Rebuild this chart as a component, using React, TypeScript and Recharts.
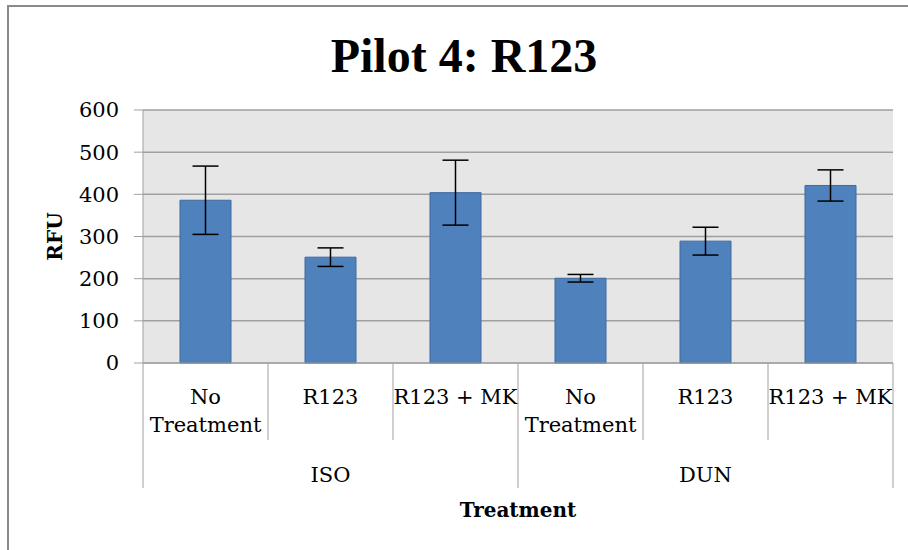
import { BarChart, Bar, XAxis, YAxis, CartesianGrid, ErrorBar } from 'recharts'

const CATEGORIES = ['No Treatment', 'R123', 'R123 + MK', 'No Treatment', 'R123', 'R123 + MK']
const GROUPS = ['ISO', 'ISO', 'ISO', 'DUN', 'DUN', 'DUN']
const RFU_MEAN = [386, 251, 404, 201, 289, 421]
const RFU_ERR = [81, 22, 77, 9, 33, 37]
const Y_TICKS = [0, 100, 200, 300, 400, 500, 600]

const data = CATEGORIES.map((c, i) => ({
  key: `${GROUPS[i]}|${c}`,
  category: c,
  group: GROUPS[i],
  rfu: RFU_MEAN[i],
  err: RFU_ERR[i],
}))

const W = 908
const H = 550
const PLOT_LEFT = 143
const PLOT_RIGHT = 893
const PLOT_TOP = 110
const PLOT_BOTTOM = 363
const BAND = (PLOT_RIGHT - PLOT_LEFT) / CATEGORIES.length

const SERIF = '"DejaVu Serif", serif'
const AXIS_GRAY = '#A0A0A0'

function CategoryTick(props: any) {
  const { x, y, payload } = props
  const i = payload.index
  const half = BAND / 2
  const lines = CATEGORIES[i] === 'No Treatment' ? ['No', 'Treatment'] : [CATEGORIES[i]]
  const groupStart = i === 0 || GROUPS[i - 1] !== GROUPS[i]
  const groupEnd = i === GROUPS.length - 1 || GROUPS[i + 1] !== GROUPS[i]
  let groupCount = 0
  if (groupStart) {
    while (i + groupCount < GROUPS.length && GROUPS[i + groupCount] === GROUPS[i]) groupCount++
  }
  return (
    <g>
      {lines.map((t, k) => (
        <text key={t} x={x} y={y + 41 + k * 28} textAnchor="middle" fontFamily={SERIF} fontSize={21} fill="#000">
          {t}
        </text>
      ))}
      {i === 0 && <line x1={x - half} x2={x - half} y1={y} y2={y + 125} stroke={AXIS_GRAY} />}
      <line x1={x + half} x2={x + half} y1={y} y2={y + (groupEnd ? 125 : 77)} stroke={AXIS_GRAY} />
      {groupStart && (
        <text x={x - half + (groupCount * BAND) / 2} y={y + 119} textAnchor="middle" fontFamily={SERIF} fontSize={21} fill="#000">
          {GROUPS[i]}
        </text>
      )}
    </g>
  )
}

export default function App() {
  return (
    <div style={{ position: 'absolute', left: 0, top: 0, width: W, height: H, overflow: 'hidden', background: '#fff' }}>
      <div style={{ position: 'absolute', left: 7, top: 5, width: 940, height: 600, border: '2px solid #8a8a8a' }} />
      <div
        style={{
          position: 'absolute',
          left: 0,
          top: 32,
          width: 928,
          textAlign: 'center',
          fontFamily: '"Liberation Serif", serif',
          fontWeight: 'bold',
          fontSize: 48,
          lineHeight: '48px',
          color: '#000',
        }}
      >
        Pilot 4: R123
      </div>
      <div style={{ position: 'absolute', left: 0, top: 0 }}>
        <BarChart
          width={W}
          height={H}
          data={data}
          margin={{ top: PLOT_TOP, right: W - PLOT_RIGHT, left: 0, bottom: 0 }}
        >
          <CartesianGrid fill="#E6E6E6" stroke="#A0A0A0" strokeWidth={1.5} vertical={false} />
          <XAxis
            dataKey="key"
            height={H - PLOT_BOTTOM}
            axisLine={{ stroke: AXIS_GRAY }}
            tickLine={false}
            tickSize={0}
            tickMargin={0}
            interval={0}
            tick={<CategoryTick />}
            label={{
              content: ({ viewBox }: any) => (
                <text
                  x={viewBox.x + viewBox.width / 2}
                  y={viewBox.y + 154}
                  textAnchor="middle"
                  fontFamily={SERIF}
                  fontWeight="bold"
                  fontSize={20}
                  fill="#000"
                >
                  Treatment
                </text>
              ),
            }}
          />
          <YAxis
            width={PLOT_LEFT}
            domain={[0, 600]}
            ticks={Y_TICKS}
            interval={0}
            axisLine={{ stroke: AXIS_GRAY }}
            tickLine={{ stroke: AXIS_GRAY }}
            tickSize={9}
            tickMargin={15}
            tick={{ fontFamily: SERIF, fontSize: 21, fill: '#000' }}
            label={{
              content: ({ viewBox }: any) => {
                const cx = viewBox.x + 55
                const cy = viewBox.y + viewBox.height / 2
                return (
                  <text
                    x={cx}
                    y={cy}
                    transform={`rotate(-90 ${cx} ${cy})`}
                    textAnchor="middle"
                    dominantBaseline="central"
                    fontFamily={SERIF}
                    fontWeight="bold"
                    fontSize={20}
                    fill="#000"
                  >
                    RFU
                  </text>
                )
              },
            }}
          />
          <Bar dataKey="rfu" fill="#4F81BD" stroke="#3E6A9E" strokeWidth={1} barSize={51} isAnimationActive={false}>
            <ErrorBar dataKey="err" width={13} stroke="#000" strokeWidth={1.5} direction="y" isAnimationActive={false} />
          </Bar>
        </BarChart>
      </div>
    </div>
  )
}
